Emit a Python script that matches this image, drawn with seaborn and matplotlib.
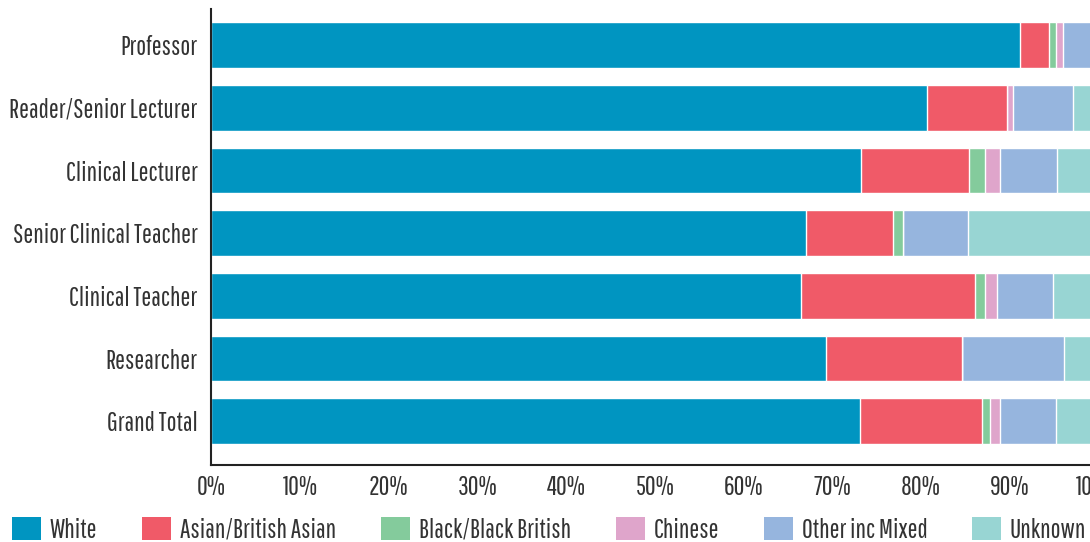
import numpy as np
import pandas as pd
import matplotlib
matplotlib.use("Agg")
import matplotlib.pyplot as plt
import seaborn as sns
from matplotlib.patches import Patch

categories = ["Professor", "Reader/Senior Lecturer", "Clinical Lecturer",
              "Senior Clinical Teacher", "Clinical Teacher", "Researcher", "Grand Total"]
groups = ["White", "Asian/British Asian", "Black/Black British", "Chinese",
          "Other inc Mixed", "Unknown"]
white = [91.1, 80.7, 73.2, 67.0, 66.5, 69.3, 73.1]
asian = [3.3, 9.0, 12.2, 9.8, 19.6, 15.3, 13.8]
black = [0.8, 0.0, 1.8, 1.2, 1.1, 0.0, 0.9]
chinese = [0.8, 0.7, 1.7, 0.0, 1.4, 0.0, 1.1]
other = [4.0, 6.7, 6.4, 7.3, 6.3, 11.5, 6.3]
unknown = [0.0, 2.9, 4.7, 14.7, 5.1, 3.9, 4.8]
colors = ["#0095C1", "#F05A68", "#84CB9C", "#DFA5CB", "#96B5DE", "#98D5D3"]

series = [white, asian, black, chinese, other, unknown]
df = pd.DataFrame({g: s for g, s in zip(groups, series)}, index=categories)
cum = df.cumsum(axis=1)

sns.set_theme(style="white")
plt.rcParams["font.family"] = ["Pathway Gothic One", "DejaVu Sans"]
FS = 19

fig = plt.figure(figsize=(10.9, 5.42), dpi=100)
ax = fig.add_axes([0.194, 0.142, 1.0079 - 0.194, 0.983 - 0.142])

for g, c in reversed(list(zip(groups, colors))):
    d = pd.DataFrame({"cat": categories, "val": cum[g].values})
    sns.barplot(data=d, y="cat", x="val", order=categories, color=c,
                width=0.73, saturation=1, ax=ax, orient="h")

ax.set_xlim(0, 100)
ax.set_ylim(6.70, -0.575)
ax.set_xticks(np.arange(0, 101, 10))
ax.set_xticklabels([f"{v}%" for v in range(0, 101, 10)])
ax.set_xlabel("")
ax.set_ylabel("")
for s in ["top", "right"]:
    ax.spines[s].set_visible(False)
for s in ["left", "bottom"]:
    ax.spines[s].set_color("#222222")
    ax.spines[s].set_linewidth(1.5)
ax.tick_params(axis="x", direction="in", length=8, width=1.5, color="#222222",
               labelsize=FS, labelcolor="#333333", pad=7)
ax.tick_params(axis="y", length=0, labelsize=FS, labelcolor="#333333", pad=10)

handles = [Patch(facecolor=c, edgecolor="none") for c in colors]
fig.legend(handles, groups, loc="lower left", bbox_to_anchor=(0.011, -0.001),
           ncol=6, frameon=False, fontsize=FS, handlelength=1.1, handleheight=1.0,
           handletextpad=0.34, columnspacing=1.69, borderaxespad=0, borderpad=0,
           labelcolor="#333333")

fig.savefig("out.png", dpi=100)
